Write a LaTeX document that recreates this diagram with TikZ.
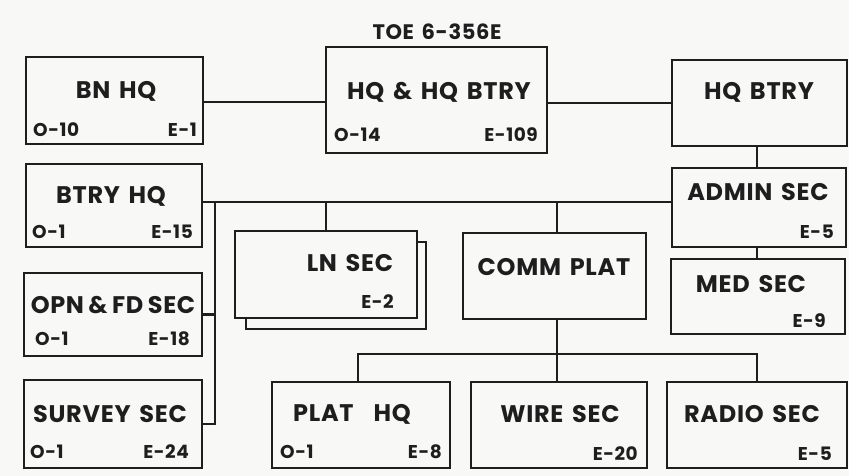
\documentclass[tikz,border=0pt]{standalone}
\usepackage{fontspec}
\setmainfont{Poppins}
\newfontfamily\lblfont{Poppins}[UprightFont={*/B}, LetterSpace=3, WordSpace=1.5]
\newfontfamily\lbltight{Poppins}[UprightFont={*/B}, LetterSpace=2.5, WordSpace=0.8]
\definecolor{paper}{RGB}{248,248,246}
\definecolor{ink}{RGB}{30,30,30}
\tikzset{
  box/.style={draw=ink, fill=paper, line width=2.5pt, rectangle, inner sep=0pt},
  conn/.style={draw=ink, line width=2.5pt},
  mainlbl/.style={inner sep=0pt, anchor=center, text=ink, font=\lblfont\fontsize{24}{25}\selectfont},
  sublbl/.style={inner sep=0pt, text=ink, font=\lblfont\fontsize{18.5}{19}\selectfont},
  subl/.style={sublbl, anchor=base west},
  subr/.style={sublbl, anchor=base east},
}
\newcommand{\boxat}[5]{% name, x1,y1,x2,y2
  \node[box, minimum width={#4-#2}, minimum height={#5-#3}] (#1) at ({(#2+#4)/2},{(#3+#5)/2}) {};}
\begin{document}
\begin{tikzpicture}[x=1pt,y=-1pt]
\fill[paper] (0,0) rectangle (849,476);
\useasboundingbox (0,0) rectangle (849,476);

% boxes
\boxat{bn}{26}{57}{203}{144}
\boxat{hq}{326}{47}{547}{153}
\boxat{hqb}{672}{60}{847}{146}
\boxat{btry}{26}{164}{202}{247}
\boxat{admin}{672}{168}{846}{247}
\boxat{med}{671}{259}{845}{334}
\boxat{lnback}{246}{242}{426}{329}
\boxat{ln}{235}{231}{417}{318}
\boxat{comm}{463}{233}{646}{319}
\boxat{opn}{24}{273}{202}{356}
\boxat{survey}{24}{380}{202}{468}
\boxat{plathq}{272}{382}{450}{468}
\boxat{wire}{471}{382}{647}{468}
\boxat{radio}{667}{382}{847}{468}

\coordinate (vx) at (215,0);

% connectors
\draw[conn] (bn.east |- 0,102) -- (hq.west |- 0,102);
\draw[conn] (hq.east |- 0,103) -- (hqb.west |- 0,103);
\draw[conn] (hqb.south -| 757,0) -- (admin.north -| 757,0);
\draw[conn] (admin.south -| 757,0) -- (med.north -| 757,0);
\draw[conn] (btry.east |- 0,202) -- (admin.west |- 0,202);
\draw[conn] (vx |- 0,202) -- (vx |- survey.east) -- (survey.east);
\draw[conn] (opn.east) -- (opn.east -| vx);
\draw[conn] (326,202) -- (ln.north);
\draw[conn] (557,202) -- (comm.north -| 557,0);
\draw[conn] (comm.south -| 557,0) -- (wire.north -| 557,0);
\draw[conn] (plathq.north -| 358,0) -- (358,354) -- (757,354) -- (radio.north -| 757,0);

% title
\node[mainlbl, font=\lblfont\fontsize{21}{21}\selectfont] (toe) at (437,32) {TOE 6-356E};

% labels
\node[mainlbl] (t-bn) at (116,91) {BN HQ};
\node[subl] (o-bn) at (33,137) {O-10};
\node[subr] (e-bn) at (197,137) {E-1};

\node[mainlbl] (t-hq) at (439,92) {HQ \& HQ BTRY};
\node[subl] (o-hq) at (334,142) {O-14};
\node[subr] (e-hq) at (538,142) {E-109};

\node[mainlbl] (t-hqb) at (759,92) {HQ BTRY};

\node[mainlbl] (t-btry) at (111,196) {BTRY HQ};
\node[subl] (o-btry) at (32,238) {O-1};
\node[subr] (e-btry) at (193,238) {E-15};

\node[mainlbl] (t-admin) at (758,192) {ADMIN SEC};
\node[subr] (e-admin) at (834,238) {E-5};

\node[mainlbl] (t-med) at (751,284) {MED SEC};
\node[subr] (e-med) at (826,327) {E-9};

\node[mainlbl] (t-ln) at (350,263) {LN SEC};
\node[subr] (e-ln) at (394,308) {E-2};

\node[mainlbl] (t-comm) at (554,267) {COMM PLAT};

\node[mainlbl, font=\lbltight\fontsize{24}{25}\selectfont] (t-opn) at (113,305) {OPN \& FD SEC};
\node[subl] (o-opn) at (35,345) {O-1};
\node[subr] (e-opn) at (190,345) {E-18};

\node[mainlbl] (t-survey) at (110,414) {SURVEY SEC};
\node[subl] (o-survey) at (30,458) {O-1};
\node[subr] (e-survey) at (189,458) {E-24};

\node[mainlbl] (t-plathq) at (352,414) {PLAT\hspace{20pt}HQ};
\node[subl] (o-plathq) at (280,458) {O-1};
\node[subr] (e-plathq) at (442,458) {E-8};

\node[mainlbl] (t-wire) at (560,414) {WIRE SEC};
\node[subr] (e-wire) at (638,460) {E-20};

\node[mainlbl] (t-radio) at (752,414) {RADIO SEC};
\node[subr] (e-radio) at (832,460) {E-5};
\end{tikzpicture}
\end{document}
